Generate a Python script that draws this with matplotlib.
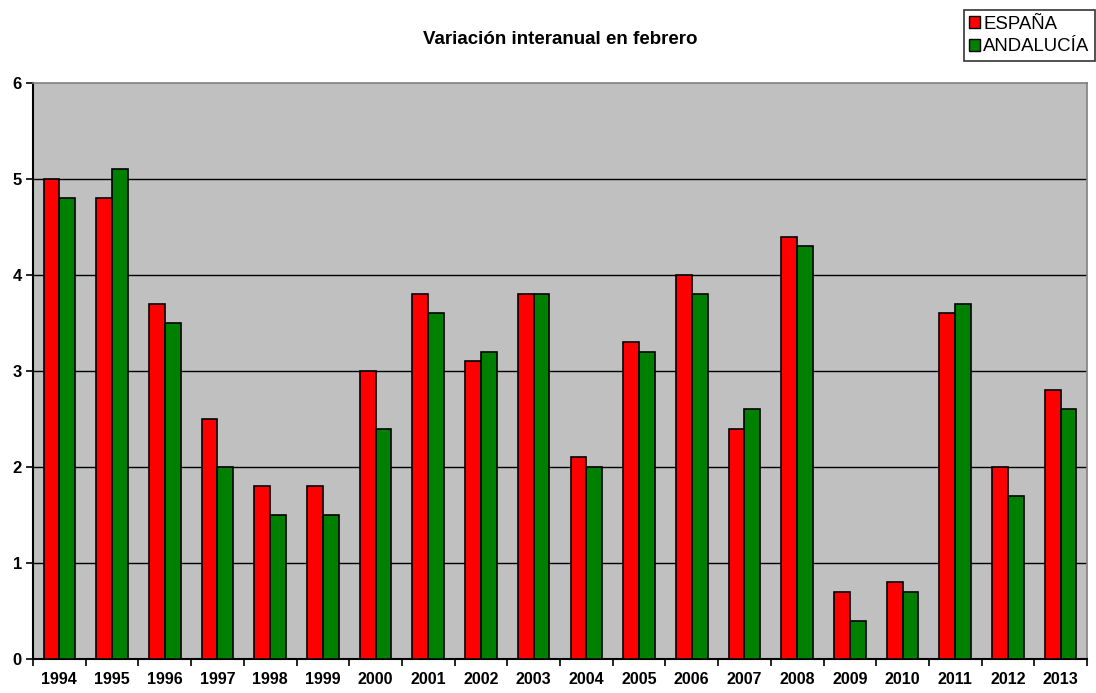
import numpy as np
import matplotlib.pyplot as plt
from matplotlib.patches import Patch

plt.rcParams['font.family'] = ['Liberation Sans', 'DejaVu Sans']

years = ['1994', '1995', '1996', '1997', '1998', '1999', '2000', '2001', '2002', '2003',
         '2004', '2005', '2006', '2007', '2008', '2009', '2010', '2011', '2012', '2013']
espana = [5.0, 4.8, 3.7, 2.5, 1.8, 1.8, 3.0, 3.8, 3.1, 3.8,
          2.1, 3.3, 4.0, 2.4, 4.4, 0.7, 0.8, 3.6, 2.0, 2.8]
andalucia = [4.8, 5.1, 3.5, 2.0, 1.5, 1.5, 2.4, 3.6, 3.2, 3.8,
             2.0, 3.2, 3.8, 2.6, 4.3, 0.4, 0.7, 3.7, 1.7, 2.6]

fig = plt.figure(figsize=(10.96, 6.93), dpi=100)
ax = fig.add_axes([33 / 1096, 1 - 659 / 693, 1054 / 1096, 576 / 693])
ax.set_facecolor('#C0C0C0')

x = np.arange(len(years))
w = 0.3
ax.bar(x - w / 2, espana, w, color='#FF0000', edgecolor='black', linewidth=1.2, zorder=3)
ax.bar(x + w / 2, andalucia, w, color='#008000', edgecolor='black', linewidth=1.2, zorder=3)

ax.set_xlim(-0.5, len(years) - 0.5)
ax.set_ylim(0, 6)
ax.set_yticks(range(7))
ax.set_yticklabels([str(i) for i in range(7)], fontsize=12, fontweight='bold')
for yv in range(1, 6):
    ax.axhline(yv, color='black', linewidth=1, zorder=1)

ax.set_xticks(x)
ax.set_xticklabels(years, fontsize=11.5, fontweight='bold')
ax.set_xticks(np.arange(-0.5, len(years)), minor=True)
ax.tick_params(axis='x', which='major', length=0, pad=9)
ax.tick_params(axis='x', which='minor', length=5, width=1.2, direction='out')
ax.tick_params(axis='y', length=5, width=1.2, direction='out', pad=3)

for side in ['left', 'bottom']:
    ax.spines[side].set_linewidth(1.5)
    ax.spines[side].set_color('black')
for side in ['top', 'right']:
    ax.spines[side].set_color('#808080')
    ax.spines[side].set_linewidth(1.2)

fig.text(560 / 1096, 1 - 40 / 693, 'Variación interanual en febrero',
         ha='center', va='center', fontsize=13.5, fontweight='bold')

handles = [Patch(facecolor='#FF0000', edgecolor='black', label='ESPAÑA'),
           Patch(facecolor='#008000', edgecolor='black', label='ANDALUCÍA')]
leg = fig.legend(handles=handles, loc='upper right', bbox_to_anchor=(1095 / 1096, 1 - 10 / 693),
                 fontsize=13.4, frameon=True, fancybox=False, edgecolor='black',
                 handlelength=0.6, handleheight=0.6, handletextpad=0.15,
                 borderpad=0.3, labelspacing=0.3, borderaxespad=0)
leg.get_frame().set_linewidth(1.2)

fig.savefig('out.png', dpi=100)
